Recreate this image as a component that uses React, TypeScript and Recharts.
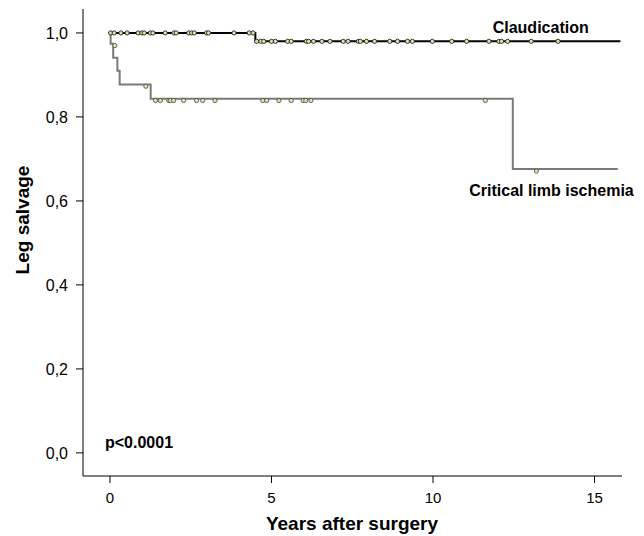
import React from "react";
import { ComposedChart, Line, Scatter, XAxis, YAxis, Label } from "recharts";

const FONT = "'Liberation Sans', Arial, Helvetica, sans-serif";

// Kaplan-Meier step curves (time in years, survival)
const claudTimes = [0, 4.5, 15.8];
const claudSurv = [1.0, 0.98, 0.98];

const cliTimes = [0, 0.02, 0.1, 0.23, 0.3, 1.26, 12.47, 15.72];
const cliSurv = [1.0, 0.974, 0.941, 0.91, 0.877, 0.843, 0.676, 0.676];

// Censor marks
const claudCensorTimes = [
  0.02, 0.13, 0.34, 0.53, 0.87, 0.99, 1.06, 1.25, 1.33, 1.71, 1.98, 2.05, 2.44,
  2.53, 2.61, 2.99, 3.05, 3.84, 4.31, 4.43, 4.54, 4.67, 4.76, 5.0, 5.12, 5.5,
  5.61, 6.08, 6.15, 6.3, 6.56, 6.81, 7.22, 7.37, 7.69, 7.75, 7.94, 8.19, 8.66,
  8.9, 9.21, 9.36, 9.98, 10.58, 11.04, 11.73, 12.04, 12.12, 12.31, 13.04, 13.87,
];
const claudCensorSurv = [
  1, 1, 1, 1, 1, 1, 1, 1, 1, 1, 1, 1, 1, 1, 1, 1, 1, 1, 1, 1, 0.98, 0.98, 0.98,
  0.98, 0.98, 0.98, 0.98, 0.98, 0.98, 0.98, 0.98, 0.98, 0.98, 0.98, 0.98, 0.98,
  0.98, 0.98, 0.98, 0.98, 0.98, 0.98, 0.98, 0.98, 0.98, 0.98, 0.98, 0.98, 0.98,
  0.98, 0.98,
];

const cliCensorTimes = [
  0.15, 1.11, 1.41, 1.56, 1.82, 1.87, 1.97, 2.28, 2.68, 2.87, 3.25, 4.73, 4.85,
  5.23, 5.61, 5.98, 6.06, 6.22, 11.62, 13.2,
];
const cliCensorSurv = [
  0.97, 0.873, 0.839, 0.839, 0.839, 0.839, 0.839, 0.839, 0.839, 0.839, 0.839,
  0.839, 0.839, 0.839, 0.839, 0.839, 0.839, 0.839, 0.839, 0.671,
];

const xTicks = [0, 5, 10, 15];
const yTicks = [0, 0.2, 0.4, 0.6, 0.8, 1.0];

const toPoints = (ts: number[], ss: number[]) =>
  ts.map((t, i) => ({ t, s: ss[i] }));

const claudData = toPoints(claudTimes, claudSurv);
const cliData = toPoints(cliTimes, cliSurv);
const claudCensor = toPoints(claudCensorTimes, claudCensorSurv);
const cliCensor = toPoints(cliCensorTimes, cliCensorSurv);

const censorShape = (stroke: string) => (props: any) => (
  <circle
    cx={props.cx}
    cy={props.cy}
    r={2.1}
    fill="#e4e0a6"
    stroke={stroke}
    strokeWidth={0.9}
  />
);

const textStyle = { fontFamily: FONT, fontWeight: 700, fill: "#000" } as const;

export default function App() {
  return (
    <ComposedChart
      width={636}
      height={528}
      margin={{ top: 1, right: 22, bottom: 30, left: 0 }}
      style={{ fontFamily: FONT }}
    >
      <XAxis
        dataKey="t"
        type="number"
        domain={[-0.835, 15.85]}
        ticks={xTicks}
        allowDataOverflow
        tickSize={7}
        tickMargin={9}
        height={30}
        stroke="#000"
        tick={{ fontSize: 15, fill: "#000", fontFamily: FONT }}
      >
        <Label
          content={() => (
            <text x={344} y={522} textAnchor="middle" fontSize={19} {...textStyle}>
              Years after surgery
            </text>
          )}
        />
      </XAxis>
      <YAxis
        dataKey="s"
        type="number"
        domain={[-0.055, 1.057]}
        ticks={yTicks}
        allowDataOverflow
        width={75}
        tickSize={7}
        tickMargin={8}
        stroke="#000"
        tick={{ fontSize: 16, fill: "#000", fontFamily: FONT }}
        tickFormatter={(v: number) => v.toFixed(1).replace(".", ",")}
      >
        <Label
          content={() => (
            <g>
              <text
                x={21}
                y={212}
                transform="rotate(-90 21 212)"
                textAnchor="middle"
                fontSize={19}
                {...textStyle}
              >
                Leg salvage
              </text>
              <text x={532.7} y={24.7} textAnchor="middle" fontSize={16} {...textStyle}>
                Claudication
              </text>
              <text x={543.5} y={187.7} textAnchor="middle" fontSize={16} {...textStyle}>
                Critical limb ischemia
              </text>
              <text x={97} y={440.3} textAnchor="start" fontSize={16} {...textStyle}>
                p&lt;0.0001
              </text>
            </g>
          )}
        />
      </YAxis>
      <Line
        data={cliData}
        dataKey="s"
        type="stepAfter"
        stroke="#7a7a7a"
        strokeWidth={2}
        dot={false}
        activeDot={false}
        isAnimationActive={false}
      />
      <Line
        data={claudData}
        dataKey="s"
        type="stepAfter"
        stroke="#000"
        strokeWidth={2}
        dot={false}
        activeDot={false}
        isAnimationActive={false}
      />
      <Scatter
        data={cliCensor}
        dataKey="s"
        shape={censorShape("#555")}
        isAnimationActive={false}
      />
      <Scatter
        data={claudCensor}
        dataKey="s"
        shape={censorShape("#222")}
        isAnimationActive={false}
      />
    </ComposedChart>
  );
}
